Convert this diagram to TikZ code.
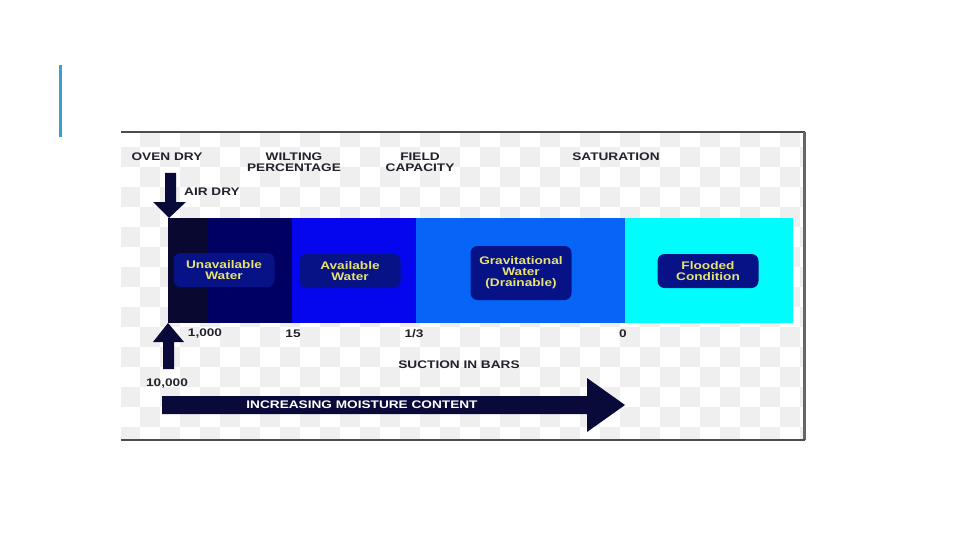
\documentclass[tikz,border=0pt]{standalone}
\usepackage{fontspec}
\setmainfont{Liberation Sans}
\newfontfamily\barfont[FakeStretch=1.24]{Liberation Sans}
\usetikzlibrary{positioning}
\definecolor{accent}{RGB}{58,160,208}
\definecolor{checker}{RGB}{239,239,239}
\definecolor{ovendry}{RGB}{8,8,48}
\definecolor{unavail}{RGB}{0,0,98}
\definecolor{avail}{RGB}{6,6,238}
\definecolor{gravity}{RGB}{6,100,246}
\definecolor{flooded}{RGB}{0,252,252}
\definecolor{pillfill}{RGB}{6,18,134}
\definecolor{pilltext}{RGB}{232,226,112}
\definecolor{arrowfill}{RGB}{10,10,58}
\definecolor{labeltext}{RGB}{34,34,44}
\newcommand{\barseg}[3]{\fill[#3] (#1,218) rectangle (#2,323);}

\begin{document}
\begin{tikzpicture}[x=1pt,y=-1pt,
  lab/.style={font=\barfont\bfseries\fontsize{11}{11}\selectfont,text=labeltext,align=center,inner sep=0pt},
  pill/.style={lab,fill=pillfill,text=pilltext,rounded corners=7pt,minimum width=101pt,minimum height=34pt}]
\useasboundingbox (0,0) rectangle (960,540);
\fill[accent] (59,65) rectangle (62,137);
% backdrop of the picture
\begin{scope}
\clip (121,132) rectangle (805,440);
\foreach \i in {0,...,34}{
  \foreach \j in {0,...,15}{
    \pgfmathtruncatemacro\odd{mod(\i+\j,2)}
    \ifnum\odd=1 \fill[checker] (120+20*\i,127+20*\j) rectangle ++(20,20);\fi
  }
}
\end{scope}
\draw[black!70,line width=1.5pt] (121,132) -- (805,132);
\draw[black!60,line width=2.5pt] (804.5,132) -- (804.5,440);
\draw[black!70,line width=1.5pt] (121,440) -- (805,440);
% moisture bar
\barseg{168}{208}{ovendry}
\barseg{208}{292}{unavail}
\barseg{292}{416}{avail}
\barseg{416}{625}{gravity}
\barseg{625}{793}{flooded}
\node[pill] (unavailable) at (224,270) {Unavailable\\Water};
\node[pill] (available) at (350,271) {Available\\Water};
\node[pill,minimum height=54pt] (gravitational) at (521,273) {Gravitational\\Water\\(Drainable)};
\node[pill] (floodedbox) at (708,271) {Flooded\\Condition};
% labels above
\node[lab] (ovenlab) at (167,157) {OVEN DRY};
\node[lab] (wiltlab) at (294,162.5) {WILTING\\PERCENTAGE};
\node[lab] (fieldlab) at (420,162.5) {FIELD\\CAPACITY};
\node[lab] (satlab) at (616,157) {SATURATION};
\node[lab,anchor=west] (airlab) at (184,192) {AIR DRY};
% suction values
\node[lab] (v1000) at (205,334) {1,000};
\node[lab] (v15) at (293,334) {15};
\node[lab] (vthird) at (414,334) {1/3};
\node[lab] (vzero) at (623,334) {0};
\node[lab] (suction) at (459,365) {SUCTION IN BARS};
\node[lab] (v10000) at (167,384) {10,000};
% block arrows
\fill[arrowfill] (165,173) -- (176,173) -- (176,202) -- (186,202) -- (169,218)
  -- (153,202) -- (165,202) -- cycle;
\fill[arrowfill] (163,369) -- (174,369) -- (174,342) -- (184,342) -- (168,323)
  -- (153,342) -- (163,342) -- cycle;
\fill[arrowfill] (162,396) -- (587,396) -- (587,378) -- (625,405) -- (587,432)
  -- (587,414) -- (162,414) -- cycle;
\node[lab,text=white] (moisture) at (362,405) {INCREASING MOISTURE CONTENT};
\end{tikzpicture}
\end{document}
